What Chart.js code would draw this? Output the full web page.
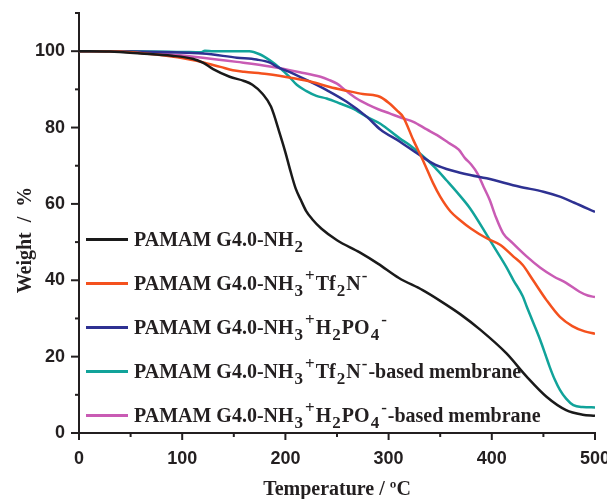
<!DOCTYPE html>
<html>
<head>
<meta charset="utf-8">
<script src="https://cdn.jsdelivr.net/npm/chart.js@4/dist/chart.umd.min.js"></script>
<style>
  html, body { margin: 0; padding: 0; background: #fff; }
  #wrap { position: relative; width: 607px; height: 499px; }
  #legend { position: absolute; left: 0; top: 0; font: bold 20px "Liberation Serif", "Times New Roman", serif; color: #231f20; }
  .row { position: absolute; left: 86px; height: 0; white-space: nowrap; }
  .swatch { position: absolute; left: 0; top: -1.5px; width: 42px; height: 3px; }
  .txt { position: absolute; left: 48px; top: -10px; line-height: 20px; }
  sub, sup { font-size: 17px; line-height: 0; position: relative; vertical-align: baseline; margin: 0 1px; }
  sub { top: 6px; }
  sup { top: -9px; }
</style>
</head>
<body>
<div id="wrap">
  <canvas id="tga" width="607" height="499"></canvas>
  <div id="legend"></div>
</div>
<script>
// TGA curves (temperature in ºC, weight in %)
const tempNH2 = [0, 30, 60, 90, 110, 120, 130, 146, 160, 168, 178, 186, 195, 200, 205, 210, 215, 220, 226, 235, 250, 272, 290, 310, 333, 350, 370, 389, 414, 434, 453, 472, 488, 500];
const wtNH2   = [100, 99.9, 99.4, 98.8, 98.0, 97.0, 95.3, 93.3, 92.2, 91.2, 88.8, 85.5, 78.0, 73.5, 68.5, 64.0, 61.0, 58.2, 56.0, 53.5, 50.5, 47.3, 44.3, 40.6, 37.4, 34.6, 31.0, 27.0, 20.9, 14.7, 9.5, 6.0, 4.8, 4.5];

const tempTf2N = [0, 40, 60, 88, 114, 125, 137, 149, 160, 182, 208, 225, 243, 260, 275, 285, 292, 300, 308, 314, 324, 334, 343, 350, 360, 369, 380, 395, 408, 421, 430, 440, 453, 466, 478, 490, 500];
const wtTf2N   = [100, 99.9, 99.5, 98.7, 97.5, 96.7, 95.9, 95.0, 94.6, 94.0, 92.9, 92.0, 90.6, 89.6, 88.8, 88.5, 88.0, 86.5, 84.5, 82.8, 76.7, 71.0, 65.5, 61.9, 58.0, 55.8, 53.5, 51.0, 49.3, 46.2, 44.0, 40.0, 34.8, 30.4, 28.0, 26.6, 26.0];

const tempH2PO4 = [0, 50, 90, 120, 153, 172, 185, 192, 207, 224, 240, 259, 279, 292, 311, 330, 345, 363, 380, 395, 427, 450, 466, 480, 500];
const wtH2PO4   = [100, 99.9, 99.7, 99.4, 98.3, 97.8, 97.0, 95.9, 94.2, 92.0, 89.8, 86.8, 82.8, 79.5, 76.3, 72.8, 70.3, 68.6, 67.5, 66.7, 64.5, 63.2, 61.9, 60.3, 57.9];

const tempTf2NMem = [0, 50, 100, 118, 122, 130, 165, 175, 185, 195, 203, 211, 220, 230, 240, 253, 265, 279, 292, 311, 320, 332, 345, 356, 368, 379, 396, 405, 414, 421, 430, 434, 440, 447, 452, 456, 461, 466, 472, 479, 488, 500];
const wtTf2NMem   = [100, 100, 99.8, 99.7, 100.1, 100, 100, 99.2, 97.6, 95.5, 93.5, 91.2, 89.6, 88.3, 87.6, 86.3, 85.0, 82.8, 81.0, 77.1, 75.5, 72.8, 69.5, 66.2, 62.5, 58.8, 51.5, 47.5, 43.5, 40.0, 35.8, 33.0, 29.0, 24.3, 20.5, 17.4, 14.0, 11.3, 9.0, 7.3, 6.8, 6.7];

const tempH2PO4Mem = [50, 88, 120, 153, 185, 214, 234, 242, 250, 258, 269, 280, 290, 301, 313, 324, 337, 347, 358, 368, 374, 380, 386, 392, 398, 404, 411, 420, 434, 447, 460, 472, 485, 493, 500];
const wtH2PO4Mem   = [100, 99.2, 98.3, 97.2, 96.0, 94.5, 93.3, 92.5, 91.5, 89.8, 87.6, 86.0, 84.8, 83.7, 82.5, 81.5, 79.5, 78.0, 76.0, 74.2, 72.0, 70.3, 68.0, 64.5, 61.0, 56.5, 52.3, 49.8, 46.2, 43.3, 41.0, 39.3, 37.0, 36.0, 35.6];

const seriesNames = [
  'PAMAM G4.0-NH2',
  'PAMAM G4.0-NH3+Tf2N-',
  'PAMAM G4.0-NH3+H2PO4-',
  'PAMAM G4.0-NH3+Tf2N--based membrane',
  'PAMAM G4.0-NH3+H2PO4--based membrane'
];
const legendMarkup = [
  'PAMAM G4.0-NH<sub>2</sub>',
  'PAMAM G4.0-NH<sub>3</sub><sup>+</sup>Tf<sub>2</sub>N<sup>-</sup>',
  'PAMAM G4.0-NH<sub>3</sub><sup>+</sup>H<sub>2</sub>PO<sub>4</sub><sup>-</sup>',
  'PAMAM G4.0-NH<sub>3</sub><sup>+</sup>Tf<sub>2</sub>N<sup>-</sup>-based membrane',
  'PAMAM G4.0-NH<sub>3</sub><sup>+</sup>H<sub>2</sub>PO<sub>4</sub><sup>-</sup>-based membrane'
];
const seriesColors = ['#1a1a1a', '#f4511e', '#2e3192', '#11a39a', '#c95bb4'];
const seriesTemps = [tempNH2, tempTf2N, tempH2PO4, tempTf2NMem, tempH2PO4Mem];
const seriesWeights = [wtNH2, wtTf2N, wtH2PO4, wtTf2NMem, wtH2PO4Mem];

const xTickValues = [0, 100, 200, 300, 400, 500];
const xMinorValues = [50, 150, 250, 350, 450];
const yTickValues = [0, 20, 40, 60, 80, 100];
const yMinorValues = [10, 30, 50, 70, 90, 110];

const axisColor = '#231f20';

// small outward tick marks, major and minor
const tickMarks = {
  id: 'tickMarks',
  afterDraw(chart) {
    const { ctx, scales: { x, y } } = chart;
    ctx.save();
    ctx.strokeStyle = axisColor;
    ctx.lineWidth = 2;
    const seg = (x1, y1, x2, y2) => { ctx.beginPath(); ctx.moveTo(x1, y1); ctx.lineTo(x2, y2); ctx.stroke(); };
    xTickValues.forEach(v => { const p = x.getPixelForValue(v); seg(p, y.bottom, p, y.bottom + 7); });
    xMinorValues.forEach(v => { const p = x.getPixelForValue(v); seg(p, y.bottom, p, y.bottom + 4); });
    yTickValues.forEach(v => { const p = y.getPixelForValue(v); seg(x.left - 8, p, x.left, p); });
    yMinorValues.forEach(v => { const p = y.getPixelForValue(v); seg(x.left - 4, p, x.left, p); });
    ctx.restore();
  }
};

const yTitle = {
  id: 'yTitle',
  afterDraw(chart) {
    const ctx = chart.ctx;
    ctx.save();
    ctx.translate(31, 240);
    ctx.rotate(-Math.PI / 2);
    ctx.font = 'bold 20px "Liberation Serif", "Times New Roman", serif';
    ctx.fillStyle = axisColor;
    ctx.textAlign = 'center';
    ctx.textBaseline = 'alphabetic';
    ctx.fillText('Weight  /  %', 0, 0);
    ctx.restore();
  }
};

const tickFont = { family: '"Liberation Sans", Arial, sans-serif', weight: 'bold', size: 18 };

new Chart(document.getElementById('tga'), {
  type: 'line',
  data: {
    datasets: seriesNames.map((name, i) => ({
      label: name,
      data: seriesTemps[i].map((t, j) => ({ x: t, y: seriesWeights[i][j] })),
      borderColor: seriesColors[i],
      backgroundColor: seriesColors[i],
      borderWidth: 2.5,
      pointRadius: 0,
      cubicInterpolationMode: 'monotone',
      fill: false
    }))
  },
  options: {
    responsive: false,
    animation: false,
    layout: { padding: { top: 13, right: 12, left: 0, bottom: 0 } },
    plugins: { legend: { display: false }, tooltip: { enabled: false } },
    scales: {
      x: {
        type: 'linear', min: 0, max: 500,
        grid: { display: false, drawTicks: false },
        border: { display: true, color: axisColor, width: 2 },
        ticks: { padding: 15, color: axisColor, font: tickFont },
        afterBuildTicks: s => { s.ticks = xTickValues.map(v => ({ value: v })); },
        afterFit: s => { s.height = 66; s.paddingLeft = 0; s.paddingRight = 0; },
        title: {
          display: true, text: 'Temperature / ºC', color: axisColor,
          font: { family: '"Liberation Serif", "Times New Roman", serif', weight: 'bold', size: 20 },
          padding: { top: 0, bottom: -3 }
        }
      },
      y: {
        type: 'linear', min: 0, max: 110,
        grid: { display: false, drawTicks: false },
        border: { display: true, color: axisColor, width: 2 },
        ticks: { padding: 14, color: axisColor, font: tickFont },
        afterBuildTicks: s => { s.ticks = yTickValues.map(v => ({ value: v })); },
        afterFit: s => { s.width = 79; s.paddingTop = 0; s.paddingBottom = 0; }
      }
    }
  },
  plugins: [tickMarks, yTitle]
});

// legend with sub/superscripts, laid over the plot
const legendRowsY = [239, 283, 327, 371, 415];
const legend = document.getElementById('legend');
legendMarkup.forEach((html, i) => {
  const row = document.createElement('div');
  row.className = 'row';
  row.style.top = legendRowsY[i] + 'px';
  row.innerHTML = '<span class="swatch" style="background:' + seriesColors[i] + '"></span><span class="txt">' + html + '</span>';
  legend.appendChild(row);
});
</script>
</body>
</html>
